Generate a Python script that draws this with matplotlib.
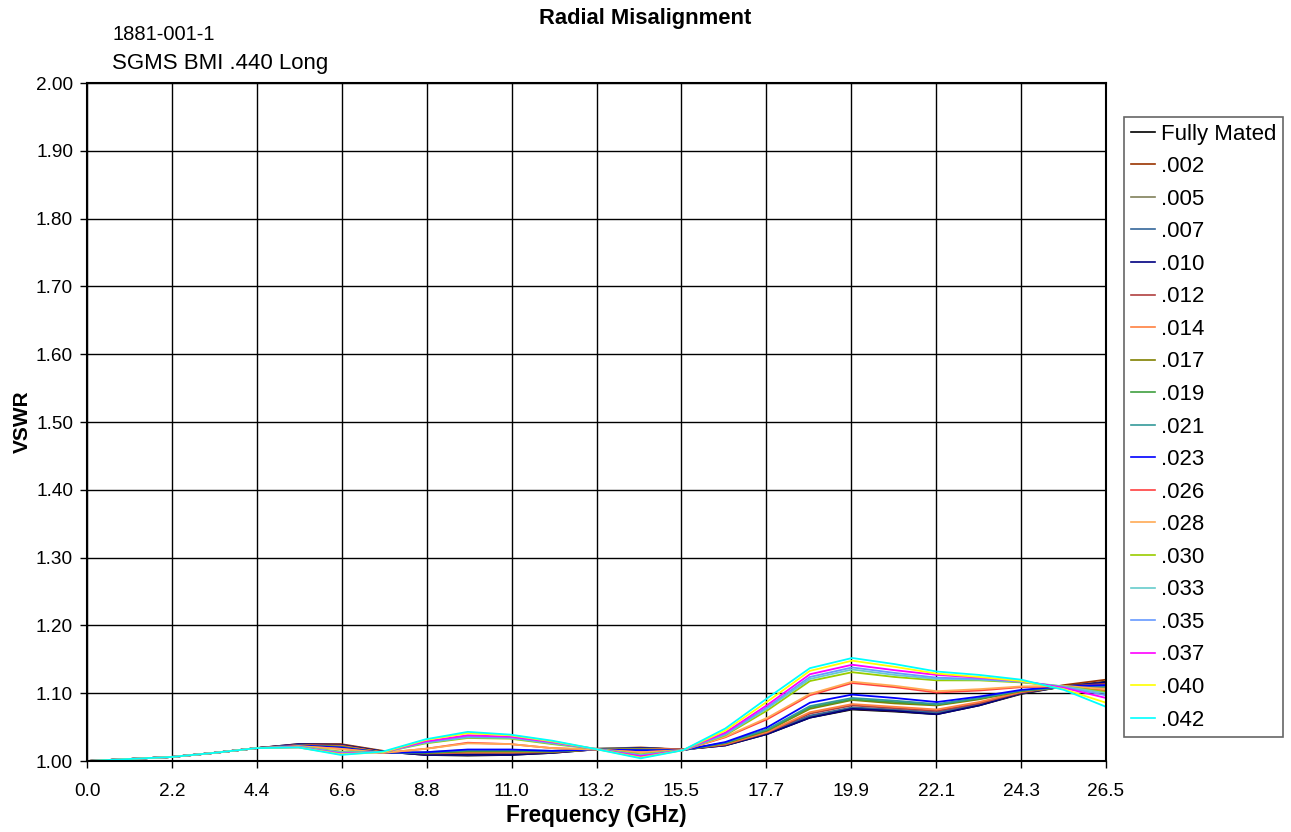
import numpy as np
import matplotlib
matplotlib.use('Agg')
import matplotlib.pyplot as plt

plt.rcParams['font.family'] = ['Liberation Sans', 'DejaVu Sans']

#%% data (VSWR vs frequency)
freq = [0.0, 1.1, 2.2, 3.3, 4.4, 5.5, 6.6, 7.7, 8.8, 9.9, 11.0, 12.1, 13.2,
        14.4, 15.5, 16.6, 17.7, 18.8, 19.9, 21.0, 22.1, 23.2, 24.3, 25.4, 26.5]

fully_mated = [1.000, 1.003, 1.006, 1.012, 1.019, 1.024, 1.024, 1.014, 1.009, 1.008, 1.009, 1.012, 1.017,
               1.019, 1.017, 1.023, 1.040, 1.064, 1.076, 1.073, 1.069, 1.082, 1.099, 1.110, 1.117]
r002 = [1.000, 1.003, 1.006, 1.012, 1.019, 1.025, 1.025, 1.015, 1.010, 1.009, 1.010, 1.013, 1.018,
        1.020, 1.017, 1.024, 1.041, 1.065, 1.077, 1.074, 1.070, 1.083, 1.100, 1.112, 1.120]
r005 = [1.000, 1.003, 1.006, 1.012, 1.019, 1.024, 1.024, 1.014, 1.010, 1.009, 1.010, 1.013, 1.018,
        1.019, 1.017, 1.024, 1.041, 1.066, 1.078, 1.075, 1.071, 1.083, 1.100, 1.110, 1.116]
r007 = [1.000, 1.003, 1.006, 1.012, 1.019, 1.024, 1.023, 1.014, 1.010, 1.010, 1.011, 1.013, 1.018,
        1.019, 1.017, 1.025, 1.042, 1.067, 1.079, 1.076, 1.072, 1.084, 1.101, 1.110, 1.115]
r010 = [1.000, 1.003, 1.006, 1.012, 1.019, 1.025, 1.024, 1.014, 1.009, 1.009, 1.009, 1.012, 1.017,
        1.019, 1.017, 1.023, 1.040, 1.064, 1.077, 1.074, 1.069, 1.082, 1.100, 1.110, 1.116]
r012 = [1.000, 1.003, 1.006, 1.012, 1.019, 1.024, 1.023, 1.013, 1.011, 1.012, 1.012, 1.013, 1.017,
        1.018, 1.017, 1.024, 1.042, 1.070, 1.082, 1.078, 1.074, 1.085, 1.101, 1.110, 1.114]
r014 = [1.000, 1.003, 1.006, 1.012, 1.019, 1.023, 1.022, 1.013, 1.012, 1.013, 1.013, 1.014, 1.017,
        1.018, 1.017, 1.025, 1.043, 1.072, 1.084, 1.080, 1.076, 1.087, 1.102, 1.110, 1.108]
r017 = [1.000, 1.003, 1.006, 1.012, 1.019, 1.023, 1.021, 1.012, 1.012, 1.014, 1.014, 1.014, 1.017,
        1.017, 1.016, 1.026, 1.045, 1.077, 1.090, 1.085, 1.082, 1.091, 1.103, 1.109, 1.111]
r019 = [1.000, 1.003, 1.006, 1.012, 1.019, 1.023, 1.021, 1.012, 1.012, 1.015, 1.015, 1.014, 1.017,
        1.017, 1.016, 1.027, 1.046, 1.079, 1.091, 1.087, 1.083, 1.092, 1.104, 1.109, 1.110]
r021 = [1.000, 1.003, 1.006, 1.012, 1.019, 1.023, 1.020, 1.012, 1.013, 1.016, 1.016, 1.015, 1.017,
        1.016, 1.016, 1.027, 1.047, 1.081, 1.093, 1.089, 1.084, 1.093, 1.104, 1.109, 1.110]
r023 = [1.000, 1.003, 1.006, 1.012, 1.019, 1.023, 1.020, 1.012, 1.013, 1.017, 1.017, 1.015, 1.017,
        1.016, 1.016, 1.028, 1.050, 1.086, 1.098, 1.093, 1.087, 1.095, 1.105, 1.110, 1.112]
r026 = [1.000, 1.003, 1.006, 1.012, 1.019, 1.022, 1.018, 1.012, 1.018, 1.027, 1.025, 1.019, 1.017,
        1.013, 1.016, 1.035, 1.062, 1.097, 1.115, 1.109, 1.101, 1.104, 1.109, 1.110, 1.104]
r028 = [1.000, 1.003, 1.006, 1.012, 1.019, 1.022, 1.018, 1.012, 1.018, 1.026, 1.025, 1.019, 1.017,
        1.013, 1.016, 1.036, 1.064, 1.099, 1.117, 1.111, 1.103, 1.106, 1.110, 1.111, 1.106]
r030 = [1.000, 1.003, 1.006, 1.012, 1.019, 1.021, 1.014, 1.013, 1.026, 1.034, 1.033, 1.025, 1.018,
        1.010, 1.016, 1.038, 1.075, 1.118, 1.131, 1.124, 1.119, 1.119, 1.116, 1.110, 1.102]
r033 = [1.000, 1.003, 1.006, 1.012, 1.019, 1.021, 1.013, 1.013, 1.027, 1.035, 1.034, 1.026, 1.018,
        1.009, 1.016, 1.039, 1.078, 1.121, 1.135, 1.127, 1.121, 1.120, 1.117, 1.110, 1.100]
r035 = [1.000, 1.003, 1.006, 1.012, 1.019, 1.021, 1.012, 1.013, 1.028, 1.036, 1.035, 1.027, 1.018,
        1.008, 1.016, 1.040, 1.080, 1.124, 1.138, 1.130, 1.123, 1.121, 1.117, 1.109, 1.097]
r037 = [1.000, 1.003, 1.006, 1.012, 1.019, 1.020, 1.011, 1.013, 1.029, 1.038, 1.036, 1.028, 1.018,
        1.007, 1.016, 1.042, 1.083, 1.128, 1.142, 1.134, 1.127, 1.123, 1.118, 1.108, 1.093]
r040 = [1.000, 1.003, 1.006, 1.012, 1.019, 1.020, 1.010, 1.013, 1.031, 1.041, 1.038, 1.029, 1.018,
        1.005, 1.016, 1.045, 1.088, 1.133, 1.148, 1.139, 1.129, 1.124, 1.118, 1.106, 1.086]
r042 = [1.000, 1.003, 1.006, 1.012, 1.019, 1.020, 1.009, 1.014, 1.032, 1.043, 1.039, 1.030, 1.018,
        1.004, 1.016, 1.048, 1.093, 1.137, 1.152, 1.143, 1.132, 1.127, 1.120, 1.105, 1.080]

labels = ['Fully Mated', '.002', '.005', '.007', '.010', '.012', '.014', '.017', '.019',
          '.021', '.023', '.026', '.028', '.030', '.033', '.035', '.037', '.040', '.042']
series = [fully_mated, r002, r005, r007, r010, r012, r014, r017, r019,
          r021, r023, r026, r028, r030, r033, r035, r037, r040, r042]
colors = ['#000000', '#993300', '#80805a', '#336699', '#000080', '#b04040', '#ff8040',
          '#808000', '#40a040', '#339999', '#0000ff', '#ff4040', '#ffaa55', '#99cc00',
          '#66cccc', '#6699ff', '#ff00ff', '#ffff00', '#00ffff']

xtick_labels = ['0.0', '2.2', '4.4', '6.6', '8.8', '11.0', '13.2', '15.5',
                '17.7', '19.9', '22.1', '24.3', '26.5']

#%% plot
fig = plt.figure(figsize=(12.91, 8.32), dpi=100)
ax = fig.add_axes([0.0674, 0.0853, 0.7893, 0.8149])

for vals, lab, col in zip(series, labels, colors):
    ax.plot(freq, vals, color=col, lw=1.3, label=lab)

ax.set_xlim(0, 26.5)
ax.set_ylim(1.0, 2.0)
ax.set_xticks(np.linspace(0, 26.5, 13))
ax.set_xticklabels(xtick_labels)
ax.set_yticks(np.arange(1.0, 2.001, 0.1))
ax.set_yticklabels(['%.2f' % v for v in np.arange(1.0, 2.001, 0.1)])
ax.tick_params(direction='out', length=5, width=1, labelsize=13.7, colors='black')
ax.tick_params(axis='x', pad=11)
ax.tick_params(axis='y', pad=5)
ax.grid(True, color='black', lw=1)
ax.set_axisbelow(True)
for sp in ax.spines.values():
    sp.set_linewidth(1.5)

ax.set_xlabel('Frequency (GHz)', fontsize=16.3, fontweight='bold', labelpad=3)
ax.set_ylabel('VSWR', fontsize=15, fontweight='bold', labelpad=3)

fig.text(0.5, 0.978, 'Radial Misalignment', ha='center', va='center',
         fontsize=15.8, fontweight='bold')
fig.text(0.0868, 0.958, '1881-001-1', ha='left', va='center', fontsize=14.5)
fig.text(0.0868, 0.924, 'SGMS BMI .440 Long', ha='left', va='center', fontsize=16)

leg = ax.legend(loc='upper left', bbox_to_anchor=(1.0177, 0.95), fontsize=16,
                frameon=True, fancybox=False, handlelength=1.1, handletextpad=0.28,
                labelspacing=0.52, borderpad=0.3, borderaxespad=0)
leg.get_frame().set_edgecolor('#404040')
leg.get_frame().set_linewidth(1.2)
for line in leg.get_lines():
    line.set_linewidth(1.2)

fig.savefig('out.png', dpi=100)
